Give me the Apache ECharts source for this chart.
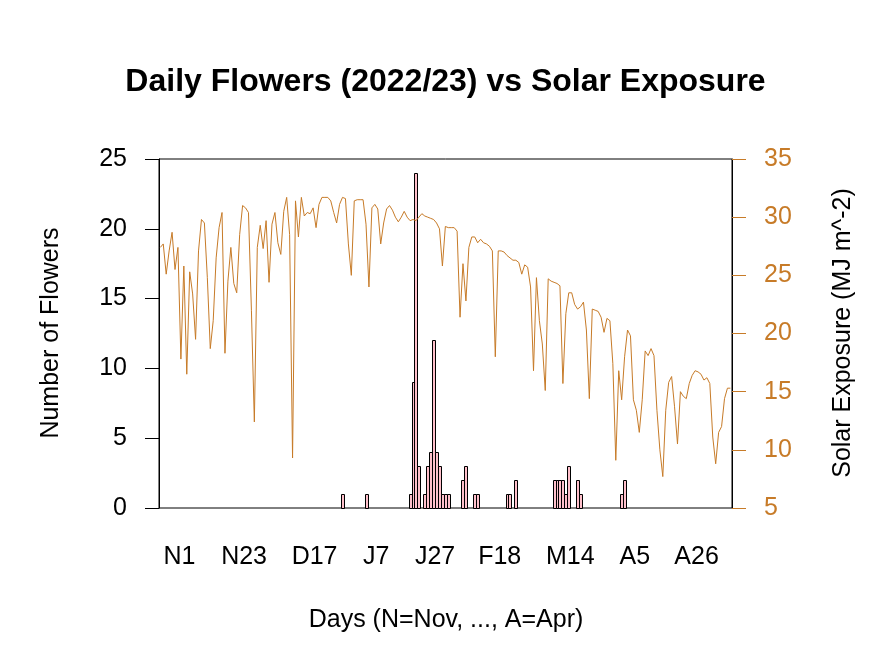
<!DOCTYPE html>
<html>
<head>
<meta charset="utf-8">
<script src="https://cdn.jsdelivr.net/npm/echarts@6/dist/echarts.min.js"></script>
<style>
html,body{margin:0;padding:0;background:#fff;}
#chart{width:891px;height:668px;}
</style>
</head>
<body>
<div id="chart"></div>
<script>
// Day offsets are relative to 1 November 2022 (day 0 = N1)
const firstSolarDay = -7; // 25 October
const solarExposure = [
 27.4,27.7,25.1,27.1,28.7,25.5,27.4,
 17.8,25.8,16.5,25.3,23.4,19.5,27.1,29.8,29.5,24.8,
 18.7,21.1,26.5,29.1,30.4,18.3,24.5,27.4,24.3,23.5,
 28.5,31.0,30.8,30.4,22.0,12.4,27.4,29.3,27.3,29.7,
 24.4,29.4,30.4,27.8,26.8,30.5,31.7,28.5,9.3,31.4,
 28.3,31.7,30.1,30.4,30.3,30.8,29.1,31.1,31.7,31.7,
 31.7,31.4,30.4,29.5,31.1,31.7,31.6,27.7,25.0,31.4,
 31.5,31.5,31.5,29.4,24.0,30.8,31.1,30.7,27.7,29.5,
 30.7,31.0,30.6,30.0,29.6,30.0,30.5,30.0,29.7,29.8,
 29.7,30.0,30.3,30.1,30.0,29.9,29.8,29.5,29.0,25.8,
 29.2,29.1,29.1,29.1,28.8,21.4,26.0,22.8,27.4,28.3,
 28.3,27.8,28.1,27.8,27.7,27.5,27.1,18.0,27.1,27.1,
 27.0,26.7,26.5,26.3,26.3,26.1,25.1,25.9,25.7,24.0,
 16.8,24.8,21.1,19.1,15.1,24.7,24.5,24.4,24.3,24.1,
 15.7,21.7,23.5,23.5,22.5,22.1,22.3,22.7,20.3,14.4,
 22.1,22.0,21.9,21.4,20.1,21.3,21.1,17.4,9.1,16.8,
 14.3,18.0,20.3,19.8,14.3,13.4,11.5,14.3,18.5,18.1,
 18.7,18.1,13.4,10.0,7.7,13.4,15.8,16.3,13.7,10.5,
 15.0,14.6,14.4,15.7,16.4,16.8,16.7,16.5,16.0,16.2,
 15.7,11.1,8.8,11.5,12.0,14.4,15.3,15.3
];
const flowerDays   = [55,63,78,79,80,81,83,84,85,86,87,88,89,90,91,96,97,100,101,111,112,114,127,128,129,130,131,132,135,136,150,151];
const flowerCounts = [ 1, 1, 1, 9,24, 3, 1, 3, 4,12, 4, 3, 1, 1, 1, 2, 3,  1,  1,  1,  1,  2,  2,  2,  2,  2,  1,  3,  2,  1,  1,  2];
const tickDays   = [0,22,46,67,87,109,133,155,176];
const tickLabels = ['N1','N23','D17','J7','J27','F18','M14','A5','A26'];

const solarColor = '#C77B28';
const font = 'Liberation Sans, Arial, sans-serif';

const lineData = solarExposure.map((v,i)=>[firstSolarDay + i + 0.5, v]);
const barData = flowerDays.map((d,i)=>[d + 0.5, flowerCounts[i]]);

function renderBar(params, api){
  const x = api.value(0), v = api.value(1);
  const p = api.coord([x, v]);
  const p0 = api.coord([x, 0]);
  const left = Math.round(p[0] - 1.5) + 0.5;
  const top = Math.round(p[1]) + 0.5;
  const h = Math.round(p0[1]) - Math.round(p[1]);
  return {type:'rect', shape:{x:left, y:top, width:3, height:h},
          style:{fill:'#FFC0CB', stroke:'#000', lineWidth:1}};
}

const chart = echarts.init(document.getElementById('chart'), null, {renderer:'canvas'});
chart.setOption({
  animation:false,
  backgroundColor:'#fff',
  grid:{left:159, right:159, top:159, bottom:160, show:true, borderColor:'#000', borderWidth:1, containLabel:false},
  xAxis:{
    type:'value', min:-6.95, max:188.05,
    axisLine:{show:false, onZero:false}, axisTick:{show:false}, splitLine:{show:false},
    axisLabel:{
      customValues:tickDays,
      formatter:(v)=>{const k=tickDays.indexOf(Math.round(v)); return k>=0?tickLabels[k]:'';},
      fontFamily:font, fontSize:25, color:'#000', margin:37
    }
  },
  yAxis:[
    {type:'value', min:0, max:25, interval:5,
     axisLine:{show:true, onZero:false, lineStyle:{color:'#000', width:1}},
     axisTick:{show:true, length:14, lineStyle:{color:'#000'}},
     splitLine:{show:false},
     axisLabel:{fontFamily:font, fontSize:25, color:'#000', margin:32, padding:[6,0,0,0]}},
    {type:'value', min:5, max:35, interval:5, position:'right',
     axisLine:{show:true, onZero:false, lineStyle:{color:'#000', width:1}},
     axisTick:{show:true, length:14, lineStyle:{color:solarColor}},
     splitLine:{show:false},
     axisLabel:{fontFamily:font, fontSize:25, color:solarColor, margin:32, padding:[6,0,0,0]}}
  ],
  series:[
    {type:'custom', yAxisIndex:0, data:barData, renderItem:renderBar, encode:{x:0, y:1}, z:2},
    {type:'line', yAxisIndex:1, data:lineData, showSymbol:false, symbol:'none',
     lineStyle:{color:solarColor, width:1}, z:3}
  ],
  graphic:[
    {type:'text', left:'center', top:66, style:{text:'Daily Flowers (2022/23) vs Solar Exposure', fontFamily:font, fontSize:32, fontWeight:'bold', fill:'#000'}},
    {type:'text', x:446, y:620, style:{text:'Days (N=Nov, ..., A=Apr)', fontFamily:font, fontSize:25, fill:'#000', align:'center', verticalAlign:'middle'}},
    {type:'text', x:51, y:333, rotation:Math.PI/2, style:{text:'Number of Flowers', fontFamily:font, fontSize:25, fill:'#000', align:'center', verticalAlign:'middle'}},
    {type:'text', x:843, y:333, rotation:Math.PI/2, style:{text:'Solar Exposure (MJ m^-2)', fontFamily:font, fontSize:25, fill:'#000', align:'center', verticalAlign:'middle'}}
  ]
});
</script>
</body>
</html>
